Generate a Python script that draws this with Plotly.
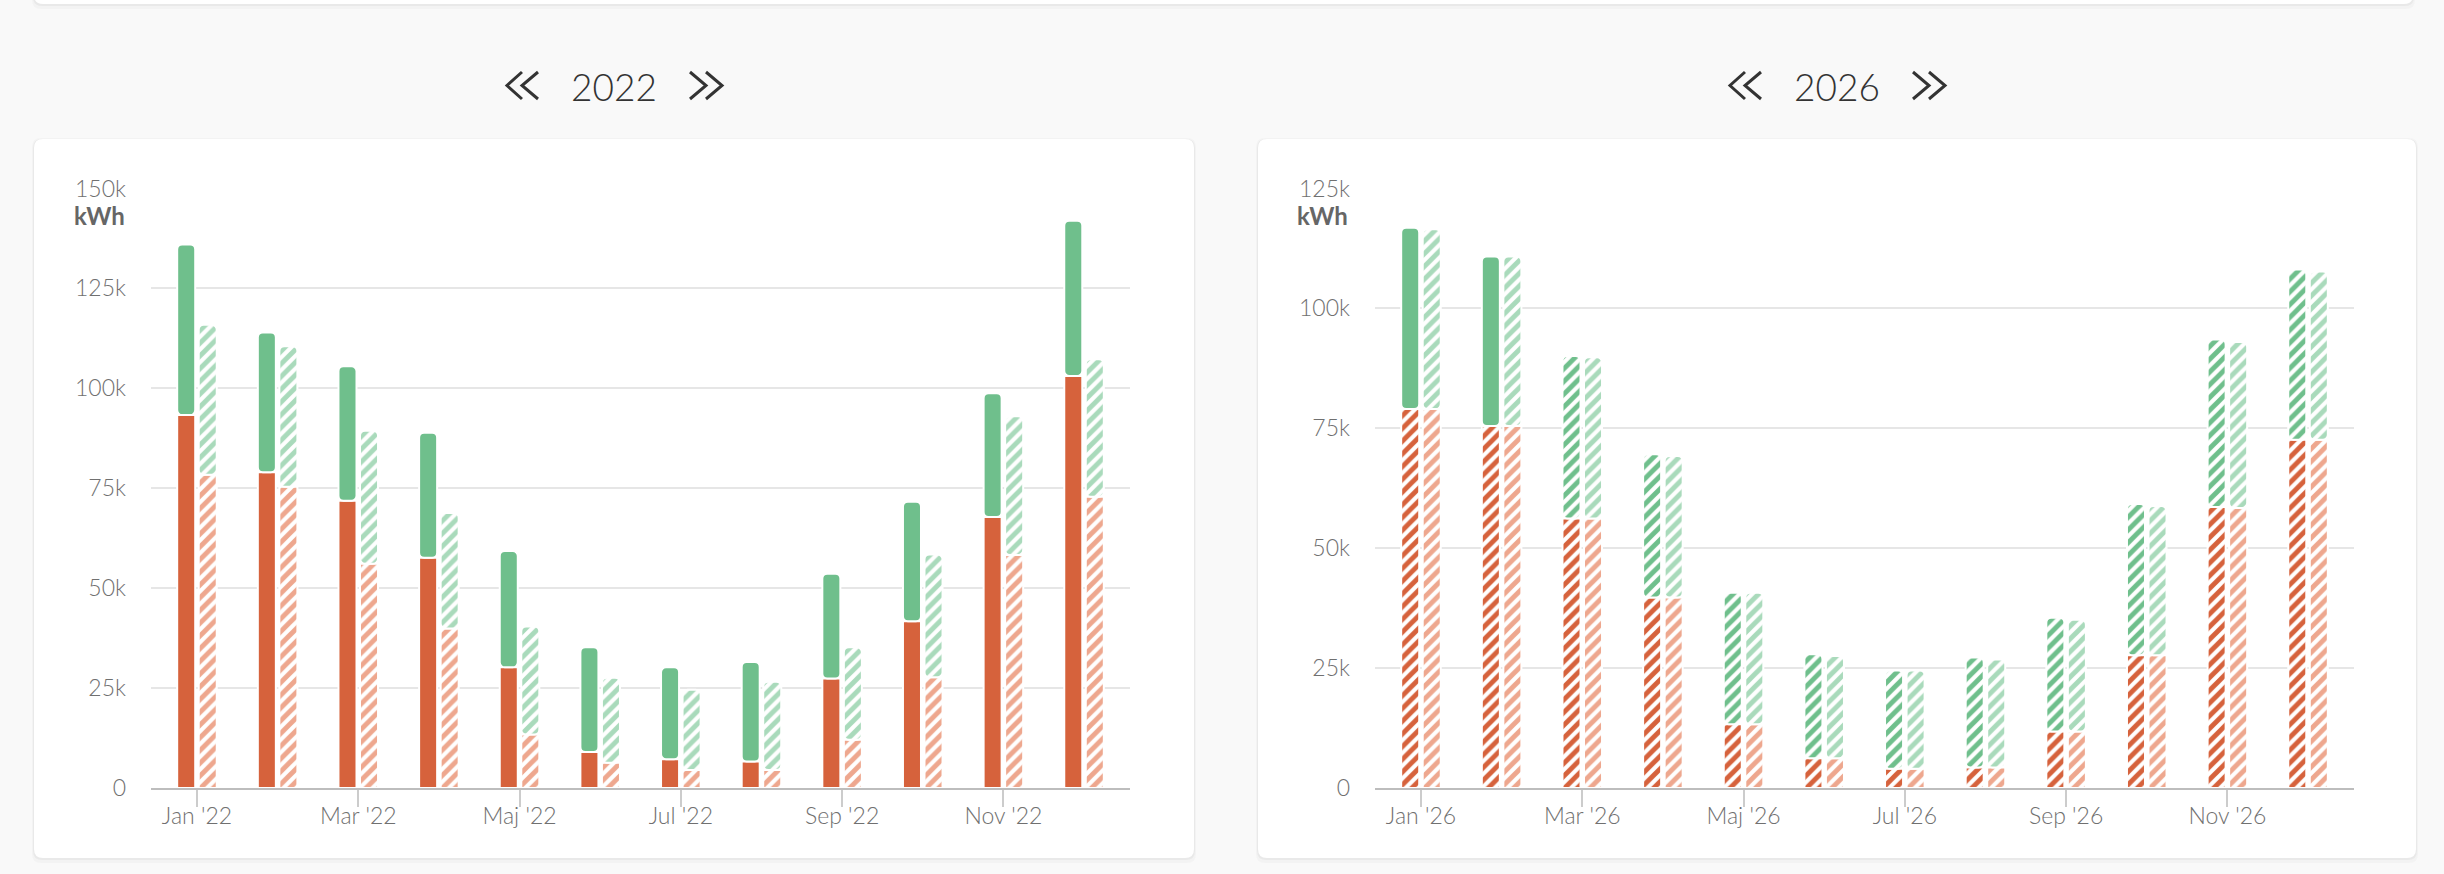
import plotly.graph_objects as go

W, H = 2444, 874

# month labels (Danish)
months = ["Jan", "Feb", "Mar", "Apr", "Maj", "Jun", "Jul", "Aug", "Sep", "Okt", "Nov", "Dec"]
shown = ["Jan", "Mar", "Maj", "Jul", "Sep", "Nov"]

# 2022 - actual (solid), totals and red bottom part
total_22 = [136000, 114000, 105500, 88900, 59300, 35200, 30200, 31500, 53600, 71600, 98800, 141900]
red_22 = [93300, 79000, 71900, 57600, 30200, 9000, 7200, 6600, 27400, 41700, 67800, 103100]
# 2022 - comparison (light hatched)
cmp_total_22 = [115900, 110500, 89400, 68800, 40400, 27600, 24600, 26600, 35200, 58400, 93000, 107300]
cmp_red_22 = [78400, 75400, 56100, 39900, 13400, 6300, 4500, 4500, 12100, 27700, 58300, 72900]

# 2026 - actual/forecast, totals and red part
total_26 = [116800, 110800, 90100, 69600, 40700, 27900, 24500, 27200, 35500, 59200, 93500, 108100]
red_26 = [79000, 75500, 56200, 39700, 13300, 6200, 4000, 4300, 11800, 27700, 58600, 72600]
# 2026 - comparison (light hatched)
cmp_total_26 = [116500, 110800, 89800, 69200, 40700, 27500, 24500, 26800, 35100, 58800, 93000, 107700]
cmp_red_26 = [79000, 75500, 56200, 39700, 13300, 6200, 4000, 4300, 11800, 27700, 58400, 72600]
actual_months_26 = 2  # Jan and Feb measured, rest forecast

GREEN = "#6fbf8c"
RED = "#d6623c"
LGREEN = "#a9dabb"
LRED = "#eea78e"
FONT = "Source Sans Pro, Lato, sans-serif"


def px_x(v):
    return v / W


def px_y(v):
    return 1 - v / H


def card_path(x0, y0, x1, y1, r=9):
    X, Y = px_x, px_y
    return (f"M {X(x0+r)},{Y(y0)} L {X(x1-r)},{Y(y0)} Q {X(x1)},{Y(y0)} {X(x1)},{Y(y0+r)} "
            f"L {X(x1)},{Y(y1-r)} Q {X(x1)},{Y(y1)} {X(x1-r)},{Y(y1)} "
            f"L {X(x0+r)},{Y(y1)} Q {X(x0)},{Y(y1)} {X(x0)},{Y(y1-r)} "
            f"L {X(x0)},{Y(y0+r)} Q {X(x0)},{Y(y0)} {X(x0+r)},{Y(y0)} Z")


fig = go.Figure()


def hatch(color, shape="/"):
    return dict(shape=shape, fgcolor=color, fgopacity=1, bgcolor="white", size=9, solidity=0.55)


def add_chart(year, total, red, cmp_total, cmp_red, xa, ya, n_solid):
    cats = [f"{m} '{year % 100:02d}" for m in months]
    solid_shape = ["" if i < n_solid else "/" for i in range(12)]
    red_shape = solid_shape if year == 2022 else ["/"] * 12
    line = dict(color="white", width=2)
    fig.add_bar(x=cats, y=red, offsetgroup="a", xaxis=xa, yaxis=ya,
                marker=dict(color=RED, line=line, pattern=hatch(RED, red_shape)))
    fig.add_bar(x=cats, y=[t - r for t, r in zip(total, red)], base=red, offsetgroup="a", xaxis=xa, yaxis=ya,
                marker=dict(color=GREEN, line=line, cornerradius=5, pattern=hatch(GREEN, solid_shape)))
    fig.add_bar(x=cats, y=cmp_red, offsetgroup="b", xaxis=xa, yaxis=ya,
                marker=dict(color=LRED, line=line, pattern=hatch(LRED)))
    fig.add_bar(x=cats, y=[t - r for t, r in zip(cmp_total, cmp_red)], base=cmp_red, offsetgroup="b",
                xaxis=xa, yaxis=ya,
                marker=dict(color=LGREEN, line=line, cornerradius=5, pattern=hatch(LGREEN)))
    return cats


cats22 = add_chart(2022, total_22, red_22, cmp_total_22, cmp_red_22, "x", "y", 12)
cats26 = add_chart(2026, total_26, red_26, cmp_total_26, cmp_red_26, "x2", "y2", actual_months_26)

ydom = [px_y(788), px_y(188.5)]
xax = dict(type="category", range=[-0.57, 11.57], showgrid=False, showline=True, linecolor="#bdbdbd",
           linewidth=2, ticks="outside", ticklen=17, tickwidth=1.5, tickcolor="#cccccc",
           tickfont=dict(family=FONT, size=23, color="#707070", weight=300), ticklabelstandoff=-11,
           fixedrange=True, automargin=False)
yax = dict(showgrid=True, gridcolor="#e6e6e6", gridwidth=2, zeroline=False, dtick=25000, tickformat="~s",
           tickfont=dict(family=FONT, size=23, color="#707070", weight=300), ticklabelstandoff=24,
           domain=ydom, fixedrange=True, automargin=False)

fig.update_layout(
    width=W, height=H, autosize=False,
    margin=dict(l=0, r=0, t=0, b=0),
    paper_bgcolor="#f9f9f9", plot_bgcolor="rgba(0,0,0,0)",
    barmode="group", bargap=0.466, bargroupgap=0.163,
    showlegend=False,
    xaxis=dict(xax, domain=[px_x(151), px_x(1130)], anchor="y",
               tickvals=[f"{m} '22" for m in shown]),
    yaxis=dict(yax, range=[0, 150000], anchor="x"),
    xaxis2=dict(xax, domain=[px_x(1375), px_x(2354)], anchor="y2",
                tickvals=[f"{m} '26" for m in shown]),
    yaxis2=dict(yax, range=[0, 125000], anchor="x2"),
)

# cards with soft shadow
shapes = []
for (x0, y0, x1, y1) in [(34, 139, 1194, 858), (1258, 139, 2416, 858), (34, -20, 2413, 4)]:
    shapes.append(dict(type="path", path=card_path(x0 - 2, y0 - 1, x1 + 2, y1 + 5), xref="paper", yref="paper",
                       fillcolor="rgba(0,0,0,0.025)", line=dict(width=0), layer="below"))
    shapes.append(dict(type="path", path=card_path(x0 - 1, y0, x1 + 1, y1 + 2), xref="paper", yref="paper",
                       fillcolor="rgba(0,0,0,0.04)", line=dict(width=0), layer="below"))
    shapes.append(dict(type="path", path=card_path(x0, y0, x1, y1), xref="paper", yref="paper",
                       fillcolor="white", line=dict(width=0), layer="below"))

# navigation chevrons around the year titles
for cx in [614, 1837]:
    for tip, end in [(cx - 107, cx - 92), (cx - 92, cx - 76), (cx + 92, cx + 76), (cx + 108, cx + 92)]:
        p = (f"M {px_x(end)},{px_y(72)} L {px_x(tip)},{px_y(85.5)} L {px_x(end)},{px_y(99)}")
        shapes.append(dict(type="path", path=p, xref="paper", yref="paper",
                           line=dict(color="#333333", width=3)))
fig.update_layout(shapes=shapes)

annotations = []
for cx, year in [(614, "2022"), (1837, "2026")]:
    annotations.append(dict(x=px_x(cx), y=px_y(86), xref="paper", yref="paper", text=year, showarrow=False,
                            xanchor="center", yanchor="middle",
                            font=dict(family=FONT, size=37, color="#333333", weight=300)))
for rx in [127, 1350]:
    annotations.append(dict(x=px_x(rx), y=px_y(216), xref="paper", yref="paper", text="<b>kWh</b>",
                            showarrow=False, xanchor="right", yanchor="middle",
                            font=dict(family=FONT, size=24, color="#666666")))
fig.update_layout(annotations=annotations)

fig.write_html("out.html", config={"displayModeBar": False},
               post_script="document.body.style.margin='0';")
